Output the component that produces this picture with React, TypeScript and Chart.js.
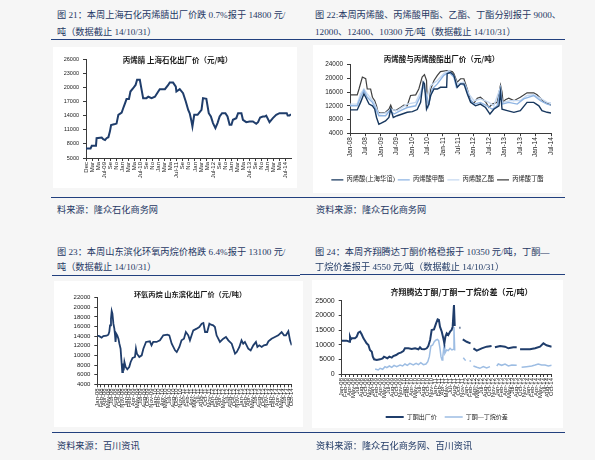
import React, { useEffect, useRef } from "react";
import { Chart, registerables } from "chart.js";

Chart.register(...registerables);

const SERIF = '"Liberation Serif", "Noto Sans CJK SC", serif';
const SANS = '"Liberation Sans", "Noto Sans CJK SC", sans-serif';
const CJK = '"Noto Sans CJK SC", sans-serif';

// ---------- 图21 丙烯腈 上海石化出厂价 (x in months from first label) ----------
const acnLabels = ["Dec", "Mar", "Ma", "Jul-09", "Se", "No", "Jan", "Mar", "Ma", "Jul-10", "Se", "No", "Jan", "Mar", "Ma", "Jul-11", "Se", "No", "Jan", "Mar", "Ma", "Jul-12", "Se", "No", "Jan", "Mar", "Ma", "Jul-13", "Se", "No", "Jan", "Mar", "Ma", "Jul-14"];
const acnMonths = [0, 1.5, 1.9, 3.3, 3.5, 5.2, 5.7, 6.3, 6.8, 7.4, 7.9, 8.3, 9.6, 10.1, 10.7, 11.8, 12.3, 12.9, 13.4, 14.2, 14.7, 15.6, 16.4, 16.9, 17.8, 18.4, 18.9, 20.0, 20.6, 21.7, 22.8, 23.9, 24.4, 26.1, 27.2, 27.7, 28.8, 29.7, 29.9, 31.0, 32.1, 33.0, 33.8, 34.3, 34.9, 35.2, 35.8, 36.9, 38.2, 38.7, 39.8, 40.6, 41.3, 42.0, 42.8, 43.5, 44.2, 45.0, 46.1, 46.8, 47.5, 48.1, 48.6, 49.7, 50.3, 51.4, 51.9, 53.0, 54.1, 55.2, 56.3, 56.9, 57.6, 58.5, 59.1, 59.6, 60.7, 61.8, 62.9, 64.0, 65.1, 66.4, 66.7, 67.3, 67.8];
const acnPrice = [7000, 7000, 7600, 7600, 9200, 9350, 9000, 8800, 9200, 9400, 10600, 12000, 12200, 12300, 14150, 14650, 15550, 16600, 17500, 17500, 19100, 19800, 20500, 21600, 21600, 19450, 17700, 17700, 18000, 17700, 18000, 19100, 19600, 19600, 20500, 21000, 21000, 20150, 19100, 19600, 18750, 17000, 15200, 14500, 12750, 11700, 14150, 14150, 15200, 17700, 17550, 14500, 13800, 12400, 11350, 12400, 13800, 14500, 14500, 13800, 12050, 12050, 13100, 13450, 14500, 14500, 13100, 12600, 12750, 12750, 12250, 12600, 13600, 13800, 13800, 14000, 12600, 13450, 14150, 14500, 14500, 14500, 14000, 14000, 14300];

// ---------- 图22 丙烯酸与丙烯酸酯出厂价 (x in months from Jan-08) ----------
const acrylLabels = ["Jan-08", "Jul-08", "Jan-09", "Jul-09", "Jan-10", "Jul-10", "Jan-11", "Jul-11", "Jan-12", "Jul-12", "Jan-13", "Jul-13", "Jan-14", "Jul-14"];
const aaMonths = [0, 2.8, 4.1, 5.4, 6.1, 7.4, 8.7, 9.6, 10.3, 11.2, 12.5, 13.8, 15.1, 15.8, 16.8, 18.3, 20.3, 22.2, 24.2, 26.1, 27.4, 28.4, 28.9, 29.7, 30.6, 31.3, 32.6, 33.9, 35.1, 37.5, 37.7, 39.0, 40.3, 41.6, 42.9, 44.2, 45.5, 46.8, 48.7, 50.6, 52.6, 54.3, 55.8, 57.8, 58.4, 59.0, 61.0, 63.6, 66.1, 68.7, 71.3, 73.3, 74.5, 76.5, 78.0];
const aaPrice = [10800, 10800, 13000, 15500, 14500, 12500, 12000, 11000, 8600, 6600, 7100, 7600, 8600, 11000, 8600, 9100, 9600, 10100, 10300, 10900, 13000, 18900, 18400, 11000, 12500, 15000, 16900, 16900, 17400, 17400, 21400, 21800, 20900, 17400, 18400, 18400, 15500, 13000, 12000, 12500, 11500, 9600, 11000, 12000, 16000, 11000, 10600, 10100, 10600, 13000, 13000, 12000, 10600, 10100, 9900];
const maMonths = [0, 2.8, 4.1, 5.4, 6.7, 8.7, 10.3, 11.2, 13.8, 15.5, 17.1, 19.6, 22.2, 25.5, 27.4, 28.4, 29.7, 30.4, 31.9, 33.9, 36.4, 38.4, 40.3, 41.3, 42.9, 44.8, 46.1, 48.1, 50.6, 53.2, 55.2, 57.1, 58.4, 59.0, 61.6, 64.9, 67.4, 71.3, 73.9, 76.5, 78.0];
const maPrice = [12000, 12000, 14500, 16500, 14500, 13000, 10600, 9100, 9100, 10600, 9600, 10600, 11500, 12000, 15000, 17900, 15000, 12000, 16900, 18400, 20900, 21800, 20400, 17400, 18400, 17900, 14500, 12500, 13000, 12000, 11000, 12000, 16900, 12500, 13000, 12500, 14000, 15000, 13500, 12500, 12200];
const eaMonths = [0, 2.8, 4.1, 5.4, 6.7, 9.3, 11.2, 13.8, 15.8, 18.3, 22.2, 25.5, 27.4, 28.7, 29.7, 31.3, 33.9, 36.4, 38.4, 40.3, 41.6, 44.2, 46.1, 48.1, 50.6, 53.9, 55.8, 58.4, 59.0, 62.3, 66.1, 68.7, 71.3, 73.9, 76.5, 78.0];
const eaPrice = [12500, 12500, 15500, 16900, 15500, 13000, 9600, 9900, 11000, 10600, 12500, 13000, 16000, 18900, 14000, 17900, 19400, 21400, 22300, 20900, 18400, 18900, 15500, 13500, 14000, 13000, 12000, 17400, 13000, 13500, 13500, 15000, 15200, 14200, 13000, 12800];
const baMonths = [0, 2.8, 3.5, 4.8, 6.1, 6.7, 8.0, 8.7, 9.6, 10.3, 10.9, 11.9, 13.8, 15.1, 15.8, 16.4, 17.7, 19.6, 20.9, 22.2, 23.5, 25.5, 26.7, 28.0, 28.9, 29.7, 30.0, 30.6, 31.3, 32.6, 33.9, 35.1, 37.7, 39.7, 40.3, 41.6, 42.9, 44.2, 45.5, 46.8, 48.1, 49.4, 50.6, 52.6, 53.9, 55.2, 57.1, 58.4, 59.0, 59.4, 60.3, 61.6, 63.6, 66.1, 68.7, 71.3, 72.6, 73.9, 75.2, 76.5, 78.0];
const baPrice = [15200, 15200, 16900, 20400, 19900, 16900, 16900, 14500, 13500, 12000, 10100, 9900, 10100, 11000, 12200, 11000, 10600, 11500, 12200, 12000, 15000, 15200, 16900, 20400, 21100, 19400, 13000, 12500, 16900, 19400, 20900, 22000, 22300, 22000, 21400, 18900, 19900, 19900, 16900, 13500, 12800, 14200, 14500, 13200, 11500, 12500, 13000, 18100, 16000, 13000, 13800, 14200, 13500, 14500, 15800, 15800, 15200, 14200, 13200, 12800, 12200];

// ---------- tick labels shared by 图23 / 图24 (every 1.5 months from Jan-08) ----------
const weekLabels = [
  "Jan-08", "Feb-08", "Apr-08", "May-08", "Jul-08", "Aug-08", "Oct-08", "Nov-08",
  "Jan-09", "Feb-09", "Apr-09", "May-09", "Jul-09", "Aug-09", "Oct-09", "Nov-09",
  "Jan-10", "Feb-10", "Apr-10", "May-10", "Jul-10", "Aug-10", "Oct-10", "Nov-10",
  "Jan-11", "Feb-11", "Apr-11", "May-11", "Jul-11", "Aug-11", "Oct-11", "Nov-11",
  "Jan-12", "Feb-12", "Apr-12", "May-12", "Jul-12", "Aug-12", "Oct-12", "Nov-12",
  "Jan-13", "Feb-13", "Apr-13", "May-13", "Jul-13", "Aug-13", "Oct-13", "Nov-13",
  "Jan-14", "Feb-14", "Apr-14", "May-14", "Jul-14", "Aug-14", "Oct-14",
];

// ---------- 图23 环氧丙烷 山东滨化出厂价 ----------
const poMonths = [0, 0.8, 1.8, 2.5, 3.9, 4.6, 5.0, 5.3, 5.7, 6.0, 6.3, 6.7, 7.1, 7.4, 7.6, 7.9, 8.3, 8.8, 9.2, 9.7, 10.1, 10.4, 10.7, 11.0, 11.3, 11.8, 12.5, 13.3, 13.9, 14.7, 15.7, 16.1, 16.5, 17.5, 18.5, 19.2, 20.3, 21.9, 22.6, 23.3, 24.7, 26.1, 27.5, 29.2, 30.0, 31.0, 32.4, 33.1, 34.2, 35.1, 36.1, 36.9, 37.9, 38.6, 39.3, 40.0, 41.4, 42.5, 43.5, 44.2, 44.9, 45.8, 46.7, 47.4, 48.3, 49.0, 49.7, 51.1, 52.5, 53.6, 54.6, 56.0, 56.7, 57.4, 58.1, 59.2, 60.1, 60.8, 61.5, 62.9, 63.9, 65.0, 66.1, 66.7, 67.5, 68.5, 69.4, 70.6, 71.3, 72.6, 74.0, 75.4, 76.8, 77.8, 78.6, 79.6, 80.3, 81.0];
const poPrice = [14100, 14000, 13700, 14000, 14100, 14300, 14900, 16250, 17640, 19230, 18680, 16600, 15560, 14180, 12800, 14520, 14180, 13480, 12450, 11400, 8640, 6560, 8300, 6900, 8640, 7600, 7110, 7600, 8640, 9470, 9680, 11400, 10370, 9680, 10020, 11400, 12800, 12930, 12100, 12800, 12800, 13140, 14180, 14320, 14180, 12450, 11060, 10700, 11760, 13140, 13480, 14870, 14180, 13140, 14180, 15220, 15560, 15910, 16600, 16740, 14870, 14870, 16600, 16390, 16250, 15910, 14180, 12800, 13480, 13830, 13140, 12450, 11400, 10370, 10700, 11760, 13140, 12450, 12800, 11400, 11060, 12100, 12800, 11760, 12100, 11760, 12100, 12240, 12930, 13480, 13830, 14180, 14870, 14180, 14180, 15010, 13140, 12100];

// ---------- 图24 齐翔腾达丁酮 / 丁酮—丁烷价差 (null = no quote) ----------
const mekMonths = [0.0, 1.9, 3.0, 3.2, 3.6, 4.0, 5.1, 5.8, 6.4, 7.1, 7.7, 8.4, 9.0, 9.6, 10.3, 10.9, 11.6, 12.0, 12.5, 13.5, 14.8, 15.8, 16.3, 17.1, 17.6, 18.4, 19.3, 19.9, 21.0, 21.9, 22.8, 23.8, 24.4, 25.7, 27.0, 28.3, 29.6, 30.2, 30.8, 31.9, 32.8, 33.4, 34.1, 34.7, 35.6, 36.4, 37.0, 37.5, 37.9, 38.6, 39.2, 39.6, 40.0, 40.5, 41.1, 41.8, 42.4, 42.8, 43.3, 43.6, 44.5, 45.4, 45.8, 46.3, 46.7, 48.2, 49.7, 50.3, 50.8, 52.1, 54.0, 55.9, 57.8, 58.5, 59.1, 61.1, 63.0, 64.3, 66.2, 67.5, 68.2, 68.8, 72.6, 74.6, 76.5, 77.8, 79.0, 81.0];
const mekPrice = [11370, 11370, 11030, 12730, 11820, 12160, 12160, 12730, 14100, 14430, 13530, 12160, 11370, 10460, 9890, 8190, 7620, 5920, 5010, 4780, 5010, 5350, 5920, 5580, 5350, 5920, 5580, 6140, 6480, 7050, 7280, 7850, 8760, 8760, 8530, 8760, 8420, 9100, 8530, 8420, 8760, 9550, 11600, 15000, 15230, 17280, 18640, 18410, 16140, 14430, 12160, 10460, 12730, 13870, 13300, 14430, 15000, 16140, 23520, 16370, null, 15800, 15800, null, 11820, 11000, 10460, null, 8760, 7960, 8760, 9320, 9550, null, 9100, 9550, 9320, 8760, 9100, 9100, null, 8420, 8420, 8760, 9320, 10460, 9800, 9320];
const spreadMonths = [12.9, 14.1, 14.8, 15.8, 16.7, 17.4, 18.4, 19.3, 20.2, 21.2, 22.5, 23.5, 24.4, 25.3, 26.3, 27.6, 28.7, 29.6, 30.5, 31.5, 32.5, 33.2, 33.8, 34.4, 35.1, 35.7, 36.4, 36.9, 37.4, 37.9, 38.3, 38.7, 39.0, 39.5, 39.8, 40.5, 41.1, 41.8, 42.5, 43.1, 43.3, 43.6, 44.5, 46.9, 47.8, 48.3, 49.3, 49.9, 50.2, 50.8, 52.1, 53.3, 54.6, 55.9, 57.2, 58.5, 59.8, 60.4, 61.7, 63.0, 64.3, 65.6, 67.5, 68.2, 69.4, 71.3, 73.3, 74.6, 75.8, 77.1, 78.4, 79.7, 81.0];
const spreadValue = [1710, 1370, 1940, 1600, 2500, 2170, 2730, 2280, 2960, 2500, 3070, 2730, 3410, 2960, 3640, 3070, 3640, 3180, 3860, 3180, 3410, 4200, 5920, 9550, 9890, 11030, 11600, 11820, 11370, 8760, 5920, 4780, 5920, 9890, 7050, 8190, 7960, 8760, 8190, 8420, 16000, 8000, null, 5570, 4550, null, 4440, 4440, null, 2730, 2280, 1940, 2500, 2050, 2500, null, 2730, 3410, 2960, 3410, 2730, 3070, 2960, null, 2280, 2500, 2730, 3070, 3410, 3070, 3070, 2730, 2960];

type Series = { label: string; months: number[]; values: (number | null)[]; color: string; width: number };

function toPoints(months: number[], values: (number | null)[]) {
  return months.map((m, i) => ({ x: m, y: values[i] }));
}

const AXIS = "#3a3a3a";

function yAxis(min: number, max: number, step: number, size: number, width: number) {
  return {
    type: "linear",
    min,
    max,
    ticks: { stepSize: step, autoSkip: false, font: { size, family: SANS }, color: "#222", padding: 4, callback: (v: number) => String(v) },
    grid: { drawOnChartArea: false, drawTicks: true, tickLength: 3, color: AXIS, lineWidth: 1 },
    border: { display: true, color: AXIS, width: 1 },
    afterFit: (s: any) => {
      s.width = width;
      s.paddingTop = 0;
      s.paddingBottom = 0;
    },
  };
}

function xAxis(max: number, step: number, labels: string[], size: number, height: number) {
  return {
    type: "linear",
    min: 0,
    max,
    afterBuildTicks: (s: any) => {
      s.ticks = labels.map((_, i) => ({ value: i * step }));
    },
    ticks: {
      autoSkip: false,
      minRotation: 90,
      maxRotation: 90,
      padding: 1,
      font: { size, family: SANS },
      color: "#222",
      callback: (_v: number, i: number) => labels[i],
    },
    grid: { drawOnChartArea: false, drawTicks: true, tickLength: 3, color: AXIS, lineWidth: 1 },
    border: { display: true, color: AXIS, width: 1 },
    afterFit: (s: any) => {
      s.height = height;
      s.paddingLeft = 0;
      s.paddingRight = 0;
    },
  };
}

type Cfg = {
  series: Series[];
  x: any;
  y: any;
  padding: { left: number; right: number; top: number; bottom: number };
  legend?: { font: number; boxWidth: number; padding: number; fullSize: boolean };
};

function lineConfig(c: Cfg): any {
  return {
    type: "line",
    data: {
      datasets: c.series.map((s) => ({
        label: s.label,
        data: toPoints(s.months, s.values),
        borderColor: s.color,
        backgroundColor: s.color,
        borderWidth: s.width,
        pointRadius: 0,
        tension: 0,
        spanGaps: false,
      })),
    },
    options: {
      responsive: false,
      animation: false,
      events: [],
      layout: { padding: c.padding },
      plugins: {
        legend: c.legend
          ? {
              display: true,
              position: "bottom",
              fullSize: c.legend.fullSize,
              labels: {
                usePointStyle: true,
                pointStyle: "line",
                pointStyleWidth: c.legend.boxWidth,
                font: { size: c.legend.font, family: SERIF },
                color: "#222",
                padding: c.legend.padding,
              },
            }
          : { display: false },
        tooltip: { enabled: false },
        title: { display: false },
      },
      scales: { x: c.x, y: c.y },
    },
  };
}

function Panel(p: {
  left: number;
  top: number;
  width: number;
  height: number;
  canvasHeight?: number;
  title: string;
  titleX: number;
  titleY: number;
  titleSize: number;
  build: () => any;
}) {
  const ref = useRef<HTMLCanvasElement | null>(null);
  useEffect(() => {
    if (!ref.current) return;
    const chart = new Chart(ref.current, p.build());
    return () => chart.destroy();
  }, []);
  const ch = p.canvasHeight ?? p.height;
  return (
    <>
      <div style={{ position: "absolute", left: p.left, top: p.top, width: p.width, height: p.height, background: "#ffffff" }} />
      <canvas ref={ref} width={p.width} height={ch} style={{ position: "absolute", left: p.left, top: p.top, width: p.width, height: ch }} />
      <div
        style={{
          position: "absolute",
          left: p.titleX,
          top: p.titleY,
          transform: "translate(-50%, -50%)",
          whiteSpace: "nowrap",
          fontFamily: CJK,
          fontWeight: 700,
          fontSize: p.titleSize,
          lineHeight: 1,
          color: "#1a1a1a",
        }}
      >
        {p.title}
      </div>
    </>
  );
}

const TITLE_COLOR = "#1f3864";
const RULE_COLOR = "#22407e";

function Txt({ x, y, children }: { x: number; y: number; children: React.ReactNode }) {
  return (
    <div
      style={{
        position: "absolute",
        left: x,
        top: y - 5,
        height: 10,
        lineHeight: "10px",
        whiteSpace: "nowrap",
        fontFamily: SERIF,
        fontSize: 9.2,
        color: TITLE_COLOR,
      }}
    >
      {children}
    </div>
  );
}

function Rule({ x, y, w }: { x: number; y: number; w: number }) {
  return <div style={{ position: "absolute", left: x, top: y, width: w, height: 1.4, background: RULE_COLOR }} />;
}

export default function App() {
  return (
    <div style={{ position: "fixed", left: 0, top: 0, width: 595, height: 460, background: "#f6f6f6", overflow: "hidden" }}>
      {/* 图21 */}
      <Txt x={57} y={15}>图 21：本周上海石化丙烯腈出厂价跌 0.7%报于 14800 元/</Txt>
      <Txt x={57} y={32}>吨（数据截止 14/10/31）</Txt>
      <Rule x={51} y={38.5} w={249} />
      <Panel
        left={53}
        top={47}
        width={244}
        height={141}
        title="丙烯腈 上海石化出厂价（元/吨）"
        titleX={177.5}
        titleY={60}
        titleSize={7.5}
        build={() =>
          lineConfig({
            series: [{ label: "丙烯腈", months: acnMonths, values: acnPrice, color: "#1f3d6b", width: 2 }],
            x: xAxis(67.8, 2, acnLabels, 6, 28),
            y: yAxis(5000, 26000, 3000, 5.5, 28),
            padding: { left: 5, right: 6, top: 12, bottom: 2 },
          })
        }
      />
      <Rule x={51} y={197} w={249} />
      <Txt x={57} y={210}>料来源：隆众石化商务网</Txt>

      {/* 图22 */}
      <Txt x={315} y={15}>图 22:本周丙烯酸、丙烯酸甲酯、乙酯、丁酯分别报于 9000、</Txt>
      <Txt x={315} y={32}>12000、12400、10300 元/吨（数据截止 14/10/31）</Txt>
      <Rule x={300} y={38.5} w={265} />
      <Panel
        left={313}
        top={45}
        width={249}
        height={148}
        title="丙烯酸与丙烯酸酯出厂价（元/吨）"
        titleX={441.5}
        titleY={59}
        titleSize={7.5}
        build={() =>
          lineConfig({
            series: [
              { label: "丙烯酸(上海华谊)", months: aaMonths, values: aaPrice, color: "#17375e", width: 1.4 },
              { label: "丙烯酸甲酯", months: maMonths, values: maPrice, color: "#8eb4e3", width: 1.4 },
              { label: "丙烯酸乙酯", months: eaMonths, values: eaPrice, color: "#c6d9f1", width: 1.4 },
              { label: "丙烯酸丁酯", months: baMonths, values: baPrice, color: "#404040", width: 1.2 },
            ],
            x: xAxis(78, 6, acrylLabels, 6.5, 40.5),
            y: yAxis(4000, 24000, 4000, 6.4, 26),
            padding: { left: 11, right: 11, top: 19.7, bottom: 0 },
            legend: { font: 6.3, boxWidth: 12, padding: 3, fullSize: true },
          })
        }
      />
      <Rule x={300} y={197} w={265} />
      <Txt x={316} y={210}>资料来源：隆众石化商务网</Txt>

      {/* 图23 */}
      <Txt x={57} y={251.5}>图 23：本周山东滨化环氧丙烷价格跌 6.4%报于 13100 元/</Txt>
      <Txt x={57} y={267}>吨（数据截止 14/10/31）</Txt>
      <Rule x={52} y={274.5} w={248} />
      <Panel
        left={54}
        top={281}
        width={249}
        height={146}
        title="环氧丙烷 山东滨化出厂价（元/吨）"
        titleX={190}
        titleY={295}
        titleSize={7.2}
        build={() =>
          lineConfig({
            series: [{ label: "环氧丙烷", months: poMonths, values: poPrice, color: "#1f3d6b", width: 1.8 }],
            x: xAxis(81, 1.5, weekLabels, 6, 40),
            y: yAxis(4000, 22000, 2000, 6, 28.3),
            padding: { left: 15, right: 11.3, top: 16.7, bottom: 2.7 },
          })
        }
      />
      <Rule x={52} y={432} w={248} />
      <Txt x={57} y={446}>资料来源：百川资讯</Txt>

      {/* 图24 */}
      <Txt x={315} y={251.5}>图 24：本周齐翔腾达丁酮价格稳报于 10350 元/吨，丁酮—</Txt>
      <Txt x={315} y={267}>丁烷价差报于 4550 元/吨（数据截止 14/10/31）</Txt>
      <Rule x={300} y={274} w={265} />
      <Panel
        left={312}
        top={280}
        width={251}
        height={148}
        canvasHeight={150}
        title="齐翔腾达丁酮/丁酮一丁烷价差（元/吨）"
        titleX={461.5}
        titleY={292.3}
        titleSize={8}
        build={() =>
          lineConfig({
            series: [
              { label: "丁酮出厂价", months: mekMonths, values: mekPrice, color: "#1f3d6b", width: 2 },
              { label: "丁酮—丁烷价差", months: spreadMonths, values: spreadValue, color: "#9dbde3", width: 1.5 },
            ],
            x: xAxis(81, 1.5, weekLabels, 6, 32),
            y: yAxis(0, 25000, 5000, 7, 27),
            padding: { left: 2.7, right: 11.3, top: 20.7, bottom: 0 },
            legend: { font: 6, boxWidth: 18, padding: 8, fullSize: false },
          })
        }
      />
      <Rule x={300} y={432} w={265} />
      <Txt x={316} y={446}>资料来源：隆众石化商务网、百川资讯</Txt>
    </div>
  );
}
